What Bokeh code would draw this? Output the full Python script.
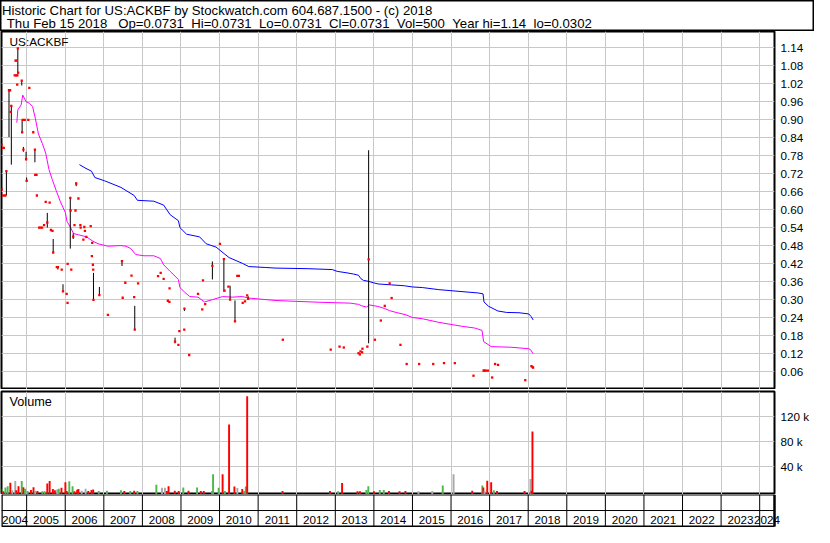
import re
from bokeh.plotting import figure
from bokeh.models import (Range1d, FixedTicker, Grid, ColumnDataSource, PrintfTickFormatter)
from bokeh.layouts import column
from bokeh.embed import file_html
from bokeh.resources import INLINE
from bokeh.core.properties import value

# ---------------------------------------------------------------- texts
TITLE_LINE1 = "Historic Chart for US:ACKBF by Stockwatch.com 604.687.1500 - (c) 2018"
TITLE_LINE2 = "Thu Feb 15 2018   Op=0.0731  Hi=0.0731  Lo=0.0731  Cl=0.0731  Vol=500  Year hi=1.14  lo=0.0302"
SYMBOL = "US:ACKBF"
VOLUME_TITLE = "Volume"

# ---------------------------------------------------------------- axes
YEARS = list(range(2004, 2025))
PRICE_TICKS = [0.06, 0.12, 0.18, 0.24, 0.30, 0.36, 0.42, 0.48, 0.54, 0.60,
               0.66, 0.72, 0.78, 0.84, 0.90, 0.96, 1.02, 1.08, 1.14]
VOLUME_TICKS = [40000, 80000, 120000]
VOLUME_TICK_LABELS = ["40 k", "80 k", "120 k"]

# ---------------------------------------------------------------- daily ranges (high/low bars)
BAR_DATES = [2004.475, 2004.542, 2004.603, 2004.771, 2004.873, 2004.883, 2004.916,
             2004.985, 2005.000, 2005.214, 2005.535, 2005.688, 2005.810, 2005.942,
             2006.131, 2006.207, 2006.284, 2006.732, 2006.885, 2007.471, 2007.802,
             2008.846, 2009.090, 2009.814, 2010.112, 2010.273, 2010.400, 2010.741,
             2013.864, 2016.844]
BAR_HIGH = [0.728, 0.998, 0.949, 1.138, 1.030, 0.900, 0.809,
            0.793, 0.707, 0.800, 0.589, 0.502, 0.411, 0.351,
            0.639, 0.521, 0.690, 0.389, 0.342, 0.432, 0.279,
            0.173, 0.272, 0.427, 0.437, 0.346, 0.297, 0.311,
            0.798, 0.066]
BAR_LOW = [0.647, 0.842, 0.750, 1.052, 1.014, 0.858, 0.793,
           0.768, 0.694, 0.758, 0.540, 0.457, 0.400, 0.326,
           0.470, 0.502, 0.678, 0.299, 0.313, 0.412, 0.200,
           0.154, 0.262, 0.367, 0.326, 0.300, 0.227, 0.300,
           0.154, 0.063]
BAR_CLOSE = [0.728, 0.998, 0.946, 1.138, 1.030, 0.858, 0.800,
             0.768, 0.696, 0.800, 0.557, 0.457, 0.408, 0.327,
             0.639, 0.510, 0.687, 0.299, 0.315, 0.428, 0.200,
             0.160, 0.270, 0.412, 0.435, 0.300, 0.227, 0.302,
             0.434, 0.063]

# ---------------------------------------------------------------- single-price trading days
TRADE_DATES = [2004.348, 2004.352, 2004.381, 2004.395, 2004.407, 2004.445, 2004.570,
               2004.585, 2004.690, 2004.712, 2004.730, 2004.740, 2004.755, 2004.760,
               2004.780, 2004.900, 2004.950, 2005.043, 2005.069, 2005.171, 2005.222,
               2005.255, 2005.265, 2005.323, 2005.362, 2005.400, 2005.451, 2005.494,
               2005.596, 2005.629, 2005.670, 2005.782, 2005.909, 2006.037, 2006.060,
               2006.062, 2006.139, 2006.156, 2006.240, 2006.266, 2006.342, 2006.393,
               2006.400, 2006.470, 2006.495, 2006.510, 2006.546, 2006.660, 2006.690,
               2006.699, 2006.717, 2006.725, 2007.106, 2007.489, 2007.557, 2007.718,
               2007.787, 2007.888, 2008.406, 2008.474, 2008.551, 2008.660, 2008.700,
               2008.704, 2008.933, 2008.958, 2009.086, 2009.213, 2009.442, 2009.552,
               2009.570, 2009.628, 2010.010, 2010.130, 2010.230, 2010.460, 2010.500,
               2010.600, 2010.660, 2010.716, 2011.640, 2012.881, 2013.110, 2013.220,
               2013.602, 2013.637, 2013.653, 2013.696, 2013.704, 2013.831, 2014.027,
               2014.180, 2014.282, 2014.409, 2014.460, 2014.689, 2014.850, 2015.173,
               2015.538, 2015.818, 2016.098, 2016.582, 2016.870, 2016.900, 2016.956,
               2017.066, 2017.142, 2017.219, 2017.924, 2018.084, 2018.110, 2018.128]
TRADE_PRICE = [0.817, 0.667, 0.806, 0.647, 0.806, 0.647, 0.998,
               0.926, 1.048, 1.097, 1.048, 1.097, 1.017, 1.048,
               1.057, 0.899, 0.899, 0.899, 1.006, 0.858, 0.716,
               0.716, 0.647, 0.540, 0.540, 0.540, 0.548, 0.626,
               0.623, 0.532, 0.529, 0.408, 0.400, 0.319, 0.289,
               0.419, 0.597, 0.400, 0.548, 0.597, 0.637, 0.548,
               0.540, 0.500, 0.542, 0.529, 0.509, 0.545, 0.445,
               0.489, 0.416, 0.400, 0.249, 0.306, 0.356, 0.380,
               0.308, 0.354, 0.378, 0.389, 0.369, 0.296, 0.292,
               0.337, 0.149, 0.195, 0.200, 0.115, 0.319, 0.267,
               0.364, 0.285, 0.486, 0.330, 0.343, 0.379, 0.379,
               0.289, 0.294, 0.314, 0.166, 0.133, 0.143, 0.140,
               0.121, 0.117, 0.127, 0.124, 0.136, 0.143, 0.166,
               0.230, 0.279, 0.354, 0.305, 0.149, 0.085, 0.085,
               0.085, 0.088, 0.088, 0.046, 0.063, 0.063, 0.063,
               0.040, 0.085, 0.082, 0.031, 0.078, 0.075, 0.073]

# ---------------------------------------------------------------- moving averages
MA_SHORT_DATES = [2004.745, 2004.771, 2004.857, 2004.898, 2004.985, 2005.069, 2005.153,
                  2005.222, 2005.306, 2005.408, 2005.494, 2005.578, 2005.662, 2005.764,
                  2005.876, 2006.004, 2006.044, 2006.131, 2006.215, 2006.342, 2006.554,
                  2006.699, 2006.852, 2007.106, 2007.445, 2007.573, 2007.700, 2007.827,
                  2008.041, 2008.296, 2008.464, 2008.551, 2008.719, 2008.933, 2008.973,
                  2009.101, 2009.229, 2009.442, 2009.610, 2009.824, 2010.079, 2010.333,
                  2010.588, 2010.757, 2011.182, 2011.437, 2011.989, 2012.583, 2013.390,
                  2013.602, 2013.686, 2013.813, 2013.882, 2014.110, 2014.282, 2014.409,
                  2014.577, 2014.832, 2015.002, 2015.257, 2015.683, 2016.276, 2016.615,
                  2016.803, 2016.844, 2017.040, 2017.550, 2018.016, 2018.059, 2018.128]
MA_SHORT = [0.890, 0.933, 0.949, 0.982, 0.960, 0.955, 0.944,
            0.906, 0.852, 0.820, 0.788, 0.734, 0.701, 0.664,
            0.626, 0.590, 0.561, 0.542, 0.520, 0.516, 0.509,
            0.496, 0.486, 0.478, 0.480, 0.478, 0.470, 0.450,
            0.446, 0.446, 0.437, 0.416, 0.394, 0.367, 0.340,
            0.324, 0.310, 0.308, 0.292, 0.300, 0.310, 0.308,
            0.310, 0.305, 0.300, 0.297, 0.294, 0.291, 0.288,
            0.284, 0.279, 0.275, 0.282, 0.277, 0.270, 0.263,
            0.257, 0.249, 0.240, 0.236, 0.224, 0.211, 0.205,
            0.197, 0.160, 0.143, 0.141, 0.136, 0.133, 0.119]

MA_LONG_DATES = [2006.368, 2006.513, 2006.681, 2006.768, 2007.022, 2007.445, 2007.787,
                 2007.871, 2008.296, 2008.551, 2008.719, 2008.933, 2008.973, 2009.144,
                 2009.483, 2009.654, 2009.909, 2010.120, 2010.247, 2010.588, 2010.757,
                 2011.182, 2011.437, 2012.270, 2012.921, 2013.049, 2013.304, 2013.475,
                 2013.602, 2013.660, 2013.729, 2013.856, 2013.983, 2014.110, 2014.450,
                 2014.791, 2015.002, 2015.257, 2015.683, 2016.701, 2016.829, 2016.854,
                 2016.968, 2017.211, 2017.440, 2017.761, 2018.016, 2018.077, 2018.128]
MA_LONG = [0.750, 0.739, 0.728, 0.707, 0.696, 0.674, 0.647,
           0.631, 0.628, 0.615, 0.583, 0.563, 0.540, 0.518,
           0.509, 0.486, 0.475, 0.453, 0.440, 0.421, 0.410,
           0.407, 0.405, 0.403, 0.400, 0.394, 0.389, 0.385,
           0.381, 0.370, 0.364, 0.361, 0.356, 0.352, 0.349,
           0.346, 0.342, 0.340, 0.333, 0.322, 0.319, 0.292,
           0.278, 0.262, 0.257, 0.256, 0.252, 0.243, 0.232]

# ---------------------------------------------------------------- volume
VOL_DATES = [2004.360, 2004.389, 2004.450, 2004.508, 2004.577, 2004.628, 2004.705,
             2004.730, 2004.789, 2004.873, 2004.916, 2004.959, 2005.025, 2005.112,
             2005.178, 2005.222, 2005.280, 2005.408, 2005.469, 2005.535, 2005.596,
             2005.680, 2005.731, 2005.790, 2005.833, 2005.902, 2006.004, 2006.037,
             2006.105, 2006.190, 2006.240, 2006.309, 2006.342, 2006.426, 2006.528,
             2006.597, 2006.681, 2006.724, 2006.870, 2007.081, 2007.445, 2007.532,
             2007.685, 2007.787, 2007.871, 2008.362, 2008.507, 2008.584, 2008.635,
             2008.678, 2008.839, 2008.940, 2009.060, 2009.195, 2009.417, 2009.514,
             2009.590, 2009.806, 2009.832, 2009.977, 2010.079, 2010.138, 2010.247,
             2010.385, 2010.461, 2010.588, 2010.639, 2010.680, 2010.716, 2011.633,
             2012.863, 2013.074, 2013.176, 2013.576, 2013.640, 2013.805, 2013.856,
             2014.001, 2014.154, 2014.256, 2014.391, 2014.664, 2014.817, 2015.156,
             2015.513, 2015.785, 2016.065, 2016.549, 2016.811, 2016.837, 2016.870,
             2016.938, 2017.040, 2017.109, 2017.193, 2017.906, 2018.059, 2018.084,
             2018.110]
VOLUMES = [4500, 600, 6500, 8500, 14000, 2000, 17000,
           2000, 8500, 17000, 7000, 4500, 800, 2500,
           7000, 1500, 800, 500, 500, 13000, 17000,
           4000, 2000, 3500, 4600, 6000, 15000, 800,
           16500, 8500, 500, 3000, 4000, 1500, 4500,
           1000, 2500, 3500, 1000, 1500, 2000, 1000,
           800, 1500, 800, 11000, 6000, 6000, 800,
           8500, 1500, 800, 6500, 1500, 6500, 1000,
           1000, 800, 27700, 6000, 27700, 1000, 107000,
           8000, 5600, 4000, 1000, 8000, 152000, 800,
           800, 500, 13800, 600, 600, 2500, 8500,
           500, 2500, 2500, 800, 500, 800, 500,
           800, 9700, 27700, 1500, 9700, 6600, 1500,
           17400, 15000, 2000, 800, 800, 20000, 1500,
           95800]
VOL_DIR = ["up", "down", "up", "up", "down", "flat", "flat",
           "down", "down", "up", "down", "up", "up", "down",
           "down", "flat", "down", "up", "up", "down", "down",
           "down", "down", "flat", "up", "down", "down", "down",
           "up", "up", "down", "down", "down", "flat", "flat",
           "down", "down", "down", "up", "up", "up", "down",
           "up", "down", "up", "up", "flat", "flat", "down",
           "down", "down", "down", "up", "down", "up", "down",
           "down", "up", "up", "up", "down", "up", "down",
           "down", "flat", "down", "up", "up", "down", "down",
           "down", "up", "down", "down", "down", "up", "up",
           "down", "up", "up", "down", "down", "down", "flat",
           "flat", "up", "flat", "down", "up", "down", "flat",
           "down", "down", "up", "down", "down", "flat", "down",
           "down"]

# ---------------------------------------------------------------- styling
FONT = "Liberation Sans"
W = 814
LEFT = 1
RIGHT = 40
FRAME_W = W - LEFT - RIGHT
PRICE_H = 358
VOL_H = 105
VOL_TOP = 2
BAND_H = 33
GRID = "#c8c8c8"
DIR_COLORS = {"up": "#4cb84c", "down": "#ff0000", "flat": "#a8a8a8"}
X_START, X_END = 2004.348, 2024.384
PRICE_RANGE = (0.0, 1.194)
VOL_RANGE = (-4600, 159400)
BAND_RANGE = (-0.06, 2.0)
PX_X = (X_END - X_START) / FRAME_W            # years per pixel
TEXT_LIFT = 4.5                               # baseline correction, px

bounds = [y for y in YEARS if X_START < y < X_END]


def keep_spaces(s):
    return re.sub(r" {2,}", lambda m: " " + "\u00a0" * (len(m.group()) - 1), s)


def no_align(p):
    if "frame_align" in p.properties():
        p.frame_align = False


xr = Range1d(X_START, X_END)


def panel(height, y_range, top):
    p = figure(width=W, height=height, x_range=xr, y_range=y_range,
               x_axis_type=None, y_axis_location="right",
               toolbar_location=None, output_backend="svg",
               min_border_left=LEFT, min_border_right=RIGHT,
               min_border_top=top, min_border_bottom=0)
    p.outline_line_color = "black"
    p.outline_line_width = 2
    p.background_fill_color = "white"
    p.border_fill_color = "white"
    p.add_layout(Grid(dimension=0, ticker=FixedTicker(ticks=bounds),
                      grid_line_color=GRID, grid_line_width=1))
    p.ygrid.grid_line_color = GRID
    a = p.yaxis[0]
    a.axis_line_color = None
    a.major_tick_line_color = None
    a.minor_tick_line_color = None
    a.major_tick_out = 0
    a.major_tick_in = 0
    a.major_label_standoff = 6
    a.major_label_text_font = FONT
    a.major_label_text_font_size = "11.7px"
    a.major_label_text_color = "black"
    return p


# ---------------------------------------------------------------- header
header = figure(width=W, height=31, x_range=Range1d(0, W), y_range=Range1d(31, 0),
                x_axis_type=None, y_axis_type=None, toolbar_location=None,
                output_backend="svg", min_border_left=0, min_border_right=0,
                min_border_top=0, min_border_bottom=0)
no_align(header)
header.outline_line_color = "black"
header.outline_line_width = 2
header.text(x=[1.5, 6.3], y=[14.6 - TEXT_LIFT, 27.6 - TEXT_LIFT],
            text=[TITLE_LINE1, keep_spaces(TITLE_LINE2)],
            text_font=value(FONT), text_font_size=value("13.2px"),
            text_color="black", text_baseline="alphabetic", text_align="left")

# ---------------------------------------------------------------- price panel
price = panel(PRICE_H, Range1d(*PRICE_RANGE), 0)
price.ygrid.ticker = FixedTicker(ticks=PRICE_TICKS)
price.yaxis[0].ticker = FixedTicker(ticks=PRICE_TICKS)
price.yaxis[0].formatter = PrintfTickFormatter(format="%.2f")

price.line(MA_LONG_DATES, MA_LONG, line_color="#0000ff", line_width=1)
price.line(MA_SHORT_DATES, MA_SHORT, line_color="#ff00ff", line_width=1)
price.segment(x0=BAR_DATES, y0=BAR_LOW, x1=BAR_DATES, y1=BAR_HIGH,
              line_color="black", line_width=1)
price.scatter(TRADE_DATES, TRADE_PRICE, marker="square", size=2.3,
              fill_color="#ff0000", line_color=None)
price.scatter(BAR_DATES, BAR_CLOSE, marker="square", size=2.3,
              fill_color="#ff0000", line_color=None)
py_px = (PRICE_RANGE[1] - PRICE_RANGE[0]) / PRICE_H
price.text(x=[X_START + 8 * PX_X], y=[PRICE_RANGE[1] - (15.2 - TEXT_LIFT) * py_px],
           text=[SYMBOL], text_font=value(FONT), text_font_size=value("11.8px"),
           text_color="black", text_baseline="alphabetic", text_align="left")

# ---------------------------------------------------------------- volume panel
vol = panel(VOL_H, Range1d(*VOL_RANGE), VOL_TOP)
vol.ygrid.ticker = FixedTicker(ticks=VOLUME_TICKS)
vax = vol.yaxis[0]
vax.ticker = FixedTicker(ticks=VOLUME_TICKS)
vax.major_label_overrides = {t: l for t, l in zip(VOLUME_TICKS, VOLUME_TICK_LABELS)}

vsrc = ColumnDataSource(dict(x=VOL_DATES, top=VOLUMES,
                             color=[DIR_COLORS[d] for d in VOL_DIR]))
vol.vbar(x="x", top="top", bottom=VOL_RANGE[0], width=0.05, source=vsrc,
         fill_color="color", line_color=None)
vy_px = (VOL_RANGE[1] - VOL_RANGE[0]) / (VOL_H - VOL_TOP)
vol.text(x=[X_START + 8 * PX_X], y=[VOL_RANGE[1] - (15.1 - TEXT_LIFT) * vy_px],
         text=[VOLUME_TITLE], text_font=value(FONT), text_font_size=value("12.7px"),
         text_color="black", text_baseline="alphabetic", text_align="left")

# ---------------------------------------------------------------- year band
BAND_X_END = X_START + PX_X * (W - LEFT)
band = figure(width=W, height=BAND_H, x_range=Range1d(X_START, BAND_X_END),
              y_range=Range1d(*BAND_RANGE), x_axis_type=None, y_axis_type=None,
              toolbar_location=None, output_backend="svg",
              min_border_left=LEFT, min_border_right=0,
              min_border_top=0, min_border_bottom=0)
no_align(band)
band.outline_line_color = None
band.segment(x0=bounds, y0=[0] * len(bounds), x1=bounds, y1=[2] * len(bounds),
             line_color="black", line_width=1)
band.segment(x0=[X_START, X_END], y0=[0, 0], x1=[X_START, X_END], y1=[2, 2],
             line_color="black", line_width=2.5)
band.segment(x0=[X_START] * 3, y0=[0, 1, 2], x1=[X_END] * 3, y1=[0, 1, 2],
             line_color="black", line_width=[2, 1, 2])
by_px = (BAND_RANGE[1] - BAND_RANGE[0]) / BAND_H
label_x = [(max(y, X_START + 2 * PX_X) + min(y + 1, X_END)) / 2 for y in YEARS]
band.text(x=label_x, y=[0.12 + TEXT_LIFT * by_px] * len(YEARS),
          text=[str(y) for y in YEARS],
          text_font=value(FONT), text_font_size=value("11.7px"),
          text_color="black", text_baseline="alphabetic", text_align="center")

layout = column(header, price, vol, band, spacing=0)
open("out.html", "w").write(file_html(layout, INLINE))
